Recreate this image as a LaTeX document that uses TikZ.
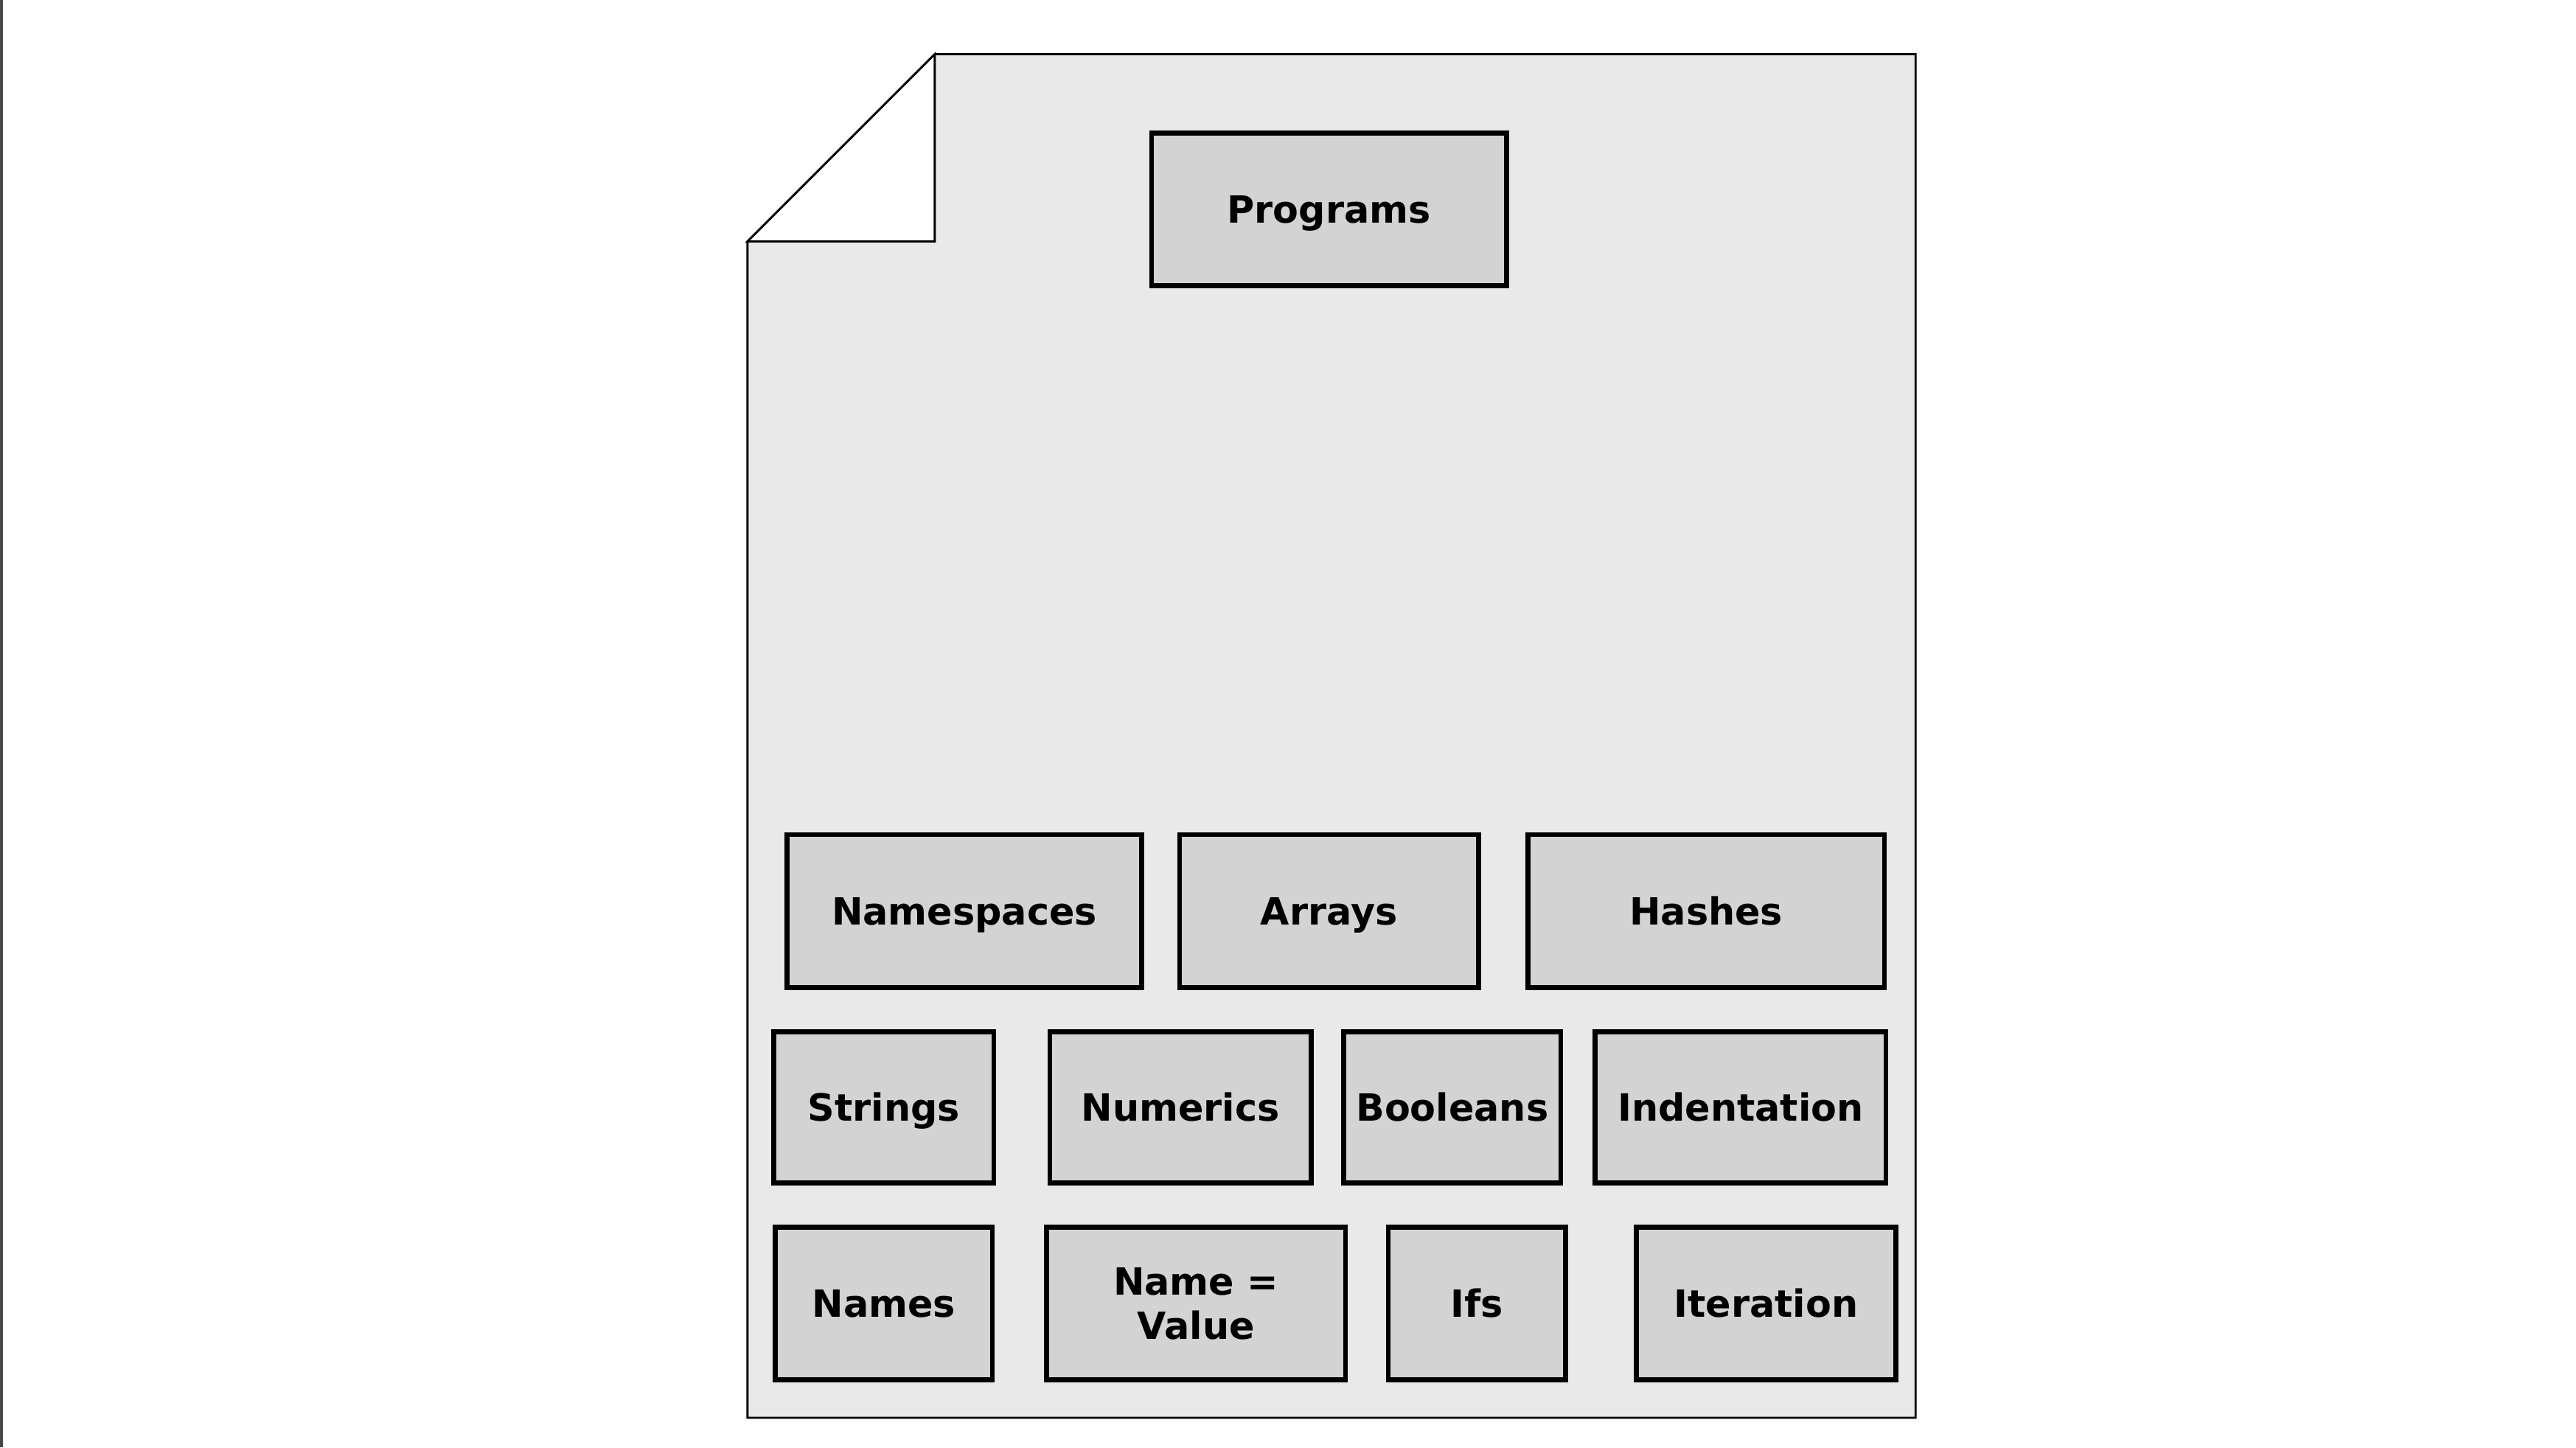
\documentclass[tikz,border=0pt]{standalone}
\usepackage{fontspec}
\setmainfont{DejaVu Sans}
\begin{document}
\begin{tikzpicture}[x=0.5pt,y=-0.5pt,
  box/.style={draw=black,fill=boxgray,line width=1.5pt,inner sep=0pt,
    minimum height=46.5pt,align=center,text height=8.3pt,text depth=0pt,
    font=\fontsize{11.4pt}{13.5pt}\selectfont\bfseries},
  twoline/.style={text height={},text depth={}},
  page/.style={draw=black,fill=pagegray,line width=0.65pt,line join=miter}]
\definecolor{boxgray}{HTML}{D3D3D3}
\definecolor{pagegray}{HTML}{E9E9E9}
\useasboundingbox (0,0) rectangle (1568,881);
\draw[draw=black!72,line width=0.8pt] (0.8,0) -- (0.8,881);
% page with folded corner
\coordinate (p1) at (455,147);
\coordinate (p2) at (569,33);
\coordinate (p3) at (1166,33);
\coordinate (p4) at (1166,863);
\coordinate (p5) at (455,863);
\coordinate (p6) at (569,147);
\draw[page] (p1) -- (p2) -- (p3) -- (p4) -- (p5) -- cycle;
\draw[draw=black,fill=white,line width=0.65pt] (p1) -- (p2) -- (p6) -- cycle;
% boxes
\node[box,minimum width=108pt] (programs) at (809,127.5) {Programs};
\node[box,minimum width=108pt] (namespaces) at (587,554.5) {Namespaces};
\node[box,minimum width=91pt] (arrays) at (809,554.5) {Arrays};
\node[box,minimum width=108.5pt] (hashes) at (1038.5,554.5) {Hashes};
\node[box,minimum width=67pt,minimum height=46pt] (strings) at (538,674) {Strings};
\node[box,minimum width=79.5pt,minimum height=46pt] (numerics) at (718.5,674) {Numerics};
\node[box,minimum width=66pt,minimum height=46pt] (booleans) at (884,674) {Booleans};
\node[box,minimum width=88.5pt,minimum height=46pt] (indentation) at (1059.5,674) {Indentation};
\node[box,minimum width=66pt] (names) at (538,793.5) {Names};
\node[box,twoline,minimum width=91pt] (namevalue) at (728,793.5) {Name =\\Value};
\node[box,minimum width=54pt] (ifs) at (899,793.5) {Ifs};
\node[box,minimum width=79pt] (iteration) at (1075,793.5) {Iteration};
\end{tikzpicture}
\end{document}
